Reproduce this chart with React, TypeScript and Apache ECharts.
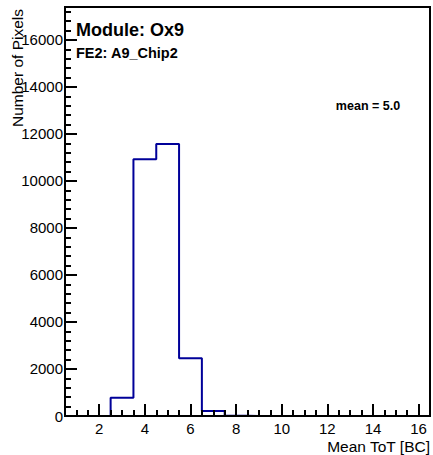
import React, { useEffect, useRef } from "react";
import * as echarts from "echarts";

const binCenters = [1, 2, 3, 4, 5, 6, 7, 8, 9, 10, 11, 12, 13, 14, 15, 16];
const counts = [0, 0, 780, 10920, 11570, 2455, 210, 15, 0, 0, 0, 0, 0, 0, 0, 0];
const xMajorTicks = [2, 4, 6, 8, 10, 12, 14, 16];
const yMajorTicks = [0, 2000, 4000, 6000, 8000, 10000, 12000, 14000, 16000];
const xMinorStep = 0.5;
const yMinorStep = 400;
const xRange = [0.5, 16.5];
const yRange = [0, 17400];
const titleText = "Module: Ox9";
const subtitleText = "FE2: A9_Chip2";
const meanText = "mean = 5.0";
const xTitle = "Mean ToT [BC]";
const yTitle = "Number of Pixels";

const FONT = "Liberation Sans, Arial, Helvetica, sans-serif";

function range(start: number, end: number, step: number): number[] {
  const out: number[] = [];
  for (let v = start; v <= end + 1e-9; v += step) out.push(Math.round(v * 1000) / 1000);
  return out;
}

export default function App() {
  const ref = useRef<HTMLDivElement>(null);
  useEffect(() => {
    if (!ref.current) return;
    const chart = echarts.init(ref.current, undefined, { renderer: "svg" });
    const xMinor = range(1, 16, xMinorStep);
    const yMinor = range(0, 17200, yMinorStep);
    const axisLabelStyle = { color: "#000", fontFamily: FONT, fontSize: 15, formatter: (v: number) => String(v) };
    chart.setOption({
      animation: false,
      backgroundColor: "#fff",
      grid: {
        left: 65,
        right: 3,
        top: 7,
        bottom: 39,
        show: true,
        borderColor: "#000",
        borderWidth: 2,
        backgroundColor: "transparent",
      },
      xAxis: [
        {
          type: "value",
          min: xRange[0],
          max: xRange[1],
          position: "bottom",
          z: 5,
          axisLine: { show: true, onZero: false, lineStyle: { color: "#000", width: 2 } },
          axisTick: { show: true, inside: true, length: 12, customValues: xMajorTicks, lineStyle: { color: "#000", width: 2 } },
          axisLabel: { show: true, customValues: xMajorTicks, margin: 5, ...axisLabelStyle },
          splitLine: { show: false },
        },
        {
          type: "value",
          min: xRange[0],
          max: xRange[1],
          position: "bottom",
          z: 5,
          axisLine: { show: false },
          axisTick: { show: true, inside: true, length: 6, customValues: xMinor, lineStyle: { color: "#000", width: 2 } },
          axisLabel: { show: false },
          splitLine: { show: false },
        },
      ],
      yAxis: [
        {
          type: "value",
          min: yRange[0],
          max: yRange[1],
          position: "left",
          z: 5,
          axisLine: { show: true, onZero: false, lineStyle: { color: "#000", width: 2 } },
          axisTick: { show: true, inside: true, length: 12, customValues: yMajorTicks, lineStyle: { color: "#000", width: 2 } },
          axisLabel: { show: true, customValues: yMajorTicks, margin: 2, ...axisLabelStyle },
          splitLine: { show: false },
        },
        {
          type: "value",
          min: yRange[0],
          max: yRange[1],
          position: "left",
          z: 5,
          axisLine: { show: false },
          axisTick: { show: true, inside: true, length: 6, customValues: yMinor, lineStyle: { color: "#000", width: 2 } },
          axisLabel: { show: false },
          splitLine: { show: false },
        },
      ],
      series: [
        {
          type: "line",
          xAxisIndex: 0,
          yAxisIndex: 0,
          step: "middle",
          symbol: "none",
          z: 2,
          lineStyle: { color: "#000099", width: 2 },
          data: binCenters.map((c, i) => [c, counts[i]]),
        },
      ],
      graphic: [
        {
          type: "text",
          x: 76,
          y: 30,
          style: { text: titleText, font: `bold 18px ${FONT}`, fill: "#000", verticalAlign: "middle", align: "left" },
        },
        {
          type: "text",
          x: 76,
          y: 53,
          style: { text: subtitleText, font: `bold 14.5px ${FONT}`, fill: "#000", verticalAlign: "middle", align: "left" },
        },
        {
          type: "text",
          x: 368,
          y: 106,
          style: { text: meanText, font: `bold 12.5px ${FONT}`, fill: "#000", verticalAlign: "middle", align: "center" },
        },
        {
          type: "text",
          x: 430,
          y: 446,
          style: { text: xTitle, font: `15.5px ${FONT}`, fill: "#000", verticalAlign: "middle", align: "right" },
        },
        {
          type: "text",
          x: 17,
          y: 9,
          rotation: Math.PI / 2,
          style: { text: yTitle, font: `15.5px ${FONT}`, fill: "#000", verticalAlign: "middle", align: "right" },
        },
      ],
    });
    return () => chart.dispose();
  }, []);
  return <div ref={ref} style={{ width: 433, height: 455, position: "absolute", left: 0, top: 0 }} />;
}
